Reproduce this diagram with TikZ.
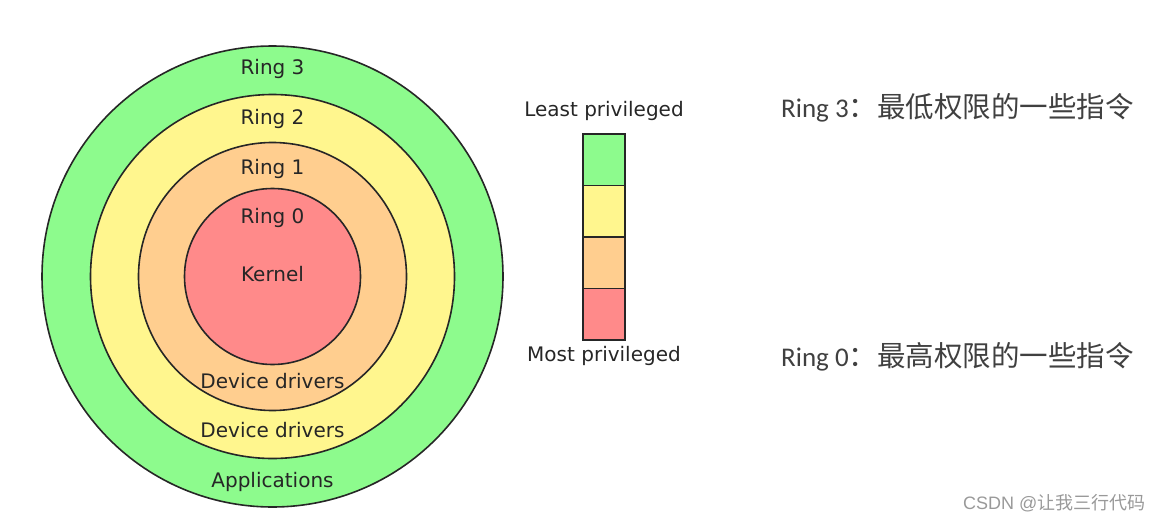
\documentclass[tikz,border=0pt]{standalone}
\usepackage{fontspec}
\setmainfont{DejaVu Sans}
\newfontfamily\cjk{Noto Sans CJK SC}
\newfontfamily\calib{Carlito}
\newfontfamily\arialf{Liberation Sans}
\usetikzlibrary{positioning}
\definecolor{ringgreen}{RGB}{141,251,141}
\definecolor{ringyellow}{RGB}{255,246,142}
\definecolor{ringorange}{RGB}{255,206,143}
\definecolor{ringred}{RGB}{255,138,138}

\begin{document}
\begin{tikzpicture}[
  x=1pt,y=-1pt,
  ring/.style={circle,draw=black!85,line width=1.6pt,inner sep=0pt,minimum size=#1},
  ringtext/.style={anchor=base,font=\fontsize{20}{24}\selectfont,text=black!85},
  cell/.style={draw=black!85,line width=1.4pt,minimum width=42pt,minimum height=51.5pt,inner sep=0pt,outer sep=0pt},
  note/.style={anchor=base west,text=black!75,inner sep=0pt}
]
\useasboundingbox (0,0) rectangle (1163,522);

% rings
\node[ring=461pt,fill=ringgreen] (r3) at (272.5,276.5) {};
\node[ring=364pt,fill=ringyellow] (r2) at (r3) {};
\node[ring=268pt,fill=ringorange] (r1) at (r3) {};
\node[ring=176pt,fill=ringred] (r0) at (r3) {};

\node[ringtext] (t3) at (272.5,74) {Ring 3};
\node[ringtext] (t2) at (272.5,124.3) {Ring 2};
\node[ringtext] (t1) at (272.5,174) {Ring 1};
\node[ringtext] (t0) at (272.5,223.3) {Ring 0};
\node[ringtext] (kern) at (272.5,281.7) {Kernel};
\node[ringtext] (drv1) at (272.5,388.3) {Device drivers};
\node[ringtext] (drv2) at (272.5,437.3) {Device drivers};
\node[ringtext] (apps) at (272.5,487.3) {Applications};

% privilege bar
\node[cell,fill=ringgreen] (b3) at (604,159.75) {};
\node[cell,fill=ringyellow,below=0pt of b3] (b2) {};
\node[cell,fill=ringorange,below=0pt of b2] (b1) {};
\node[cell,fill=ringred,below=0pt of b1] (b0) {};
\node[ringtext] (least) at (604,116.7) {Least privileged};
\node[ringtext] (most) at (604,361.7) {Most privileged};

% notes
\node[note] (n3) at (781,117) {\calib\fontsize{27}{32}\selectfont Ring 3\cjk\fontsize{28.5}{34}\selectfont ：最低权限的一些指令};
\node[note] (n0) at (781,366) {\calib\fontsize{27}{32}\selectfont Ring 0\cjk\fontsize{28.5}{34}\selectfont ：最高权限的一些指令};

\node[note,text=black!40,font=\fontsize{18}{22}\selectfont] (wm) at (963,509) {\arialf CSDN @\cjk 让我三行代码};
\end{tikzpicture}
\end{document}
